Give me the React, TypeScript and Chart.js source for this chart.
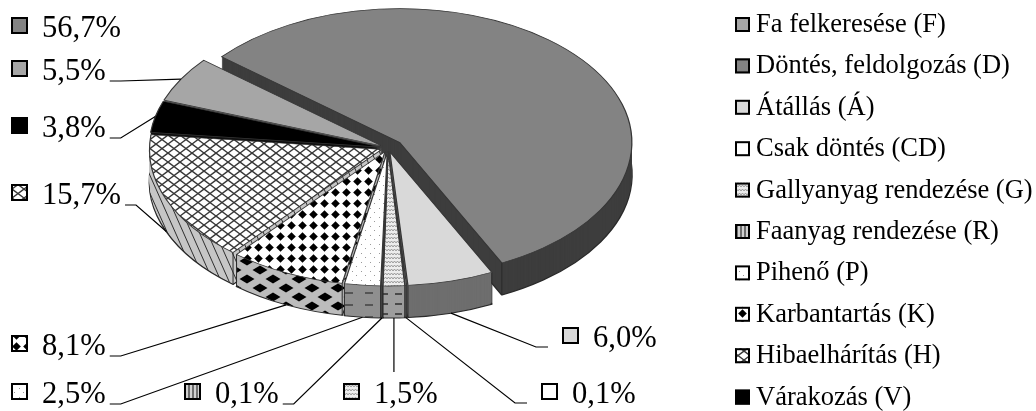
import React, { useEffect, useRef } from 'react';
import { Chart, registerables } from 'chart.js';

Chart.register(...registerables);

// ---- data ----
const categories = [
  'Fa felkeresése (F)',
  'Döntés, feldolgozás (D)',
  'Átállás (Á)',
  'Csak döntés (CD)',
  'Gallyanyag rendezése (G)',
  'Faanyag rendezése (R)',
  'Pihenő (P)',
  'Karbantartás (K)',
  'Hibaelhárítás (H)',
  'Várakozás (V)',
];
const shares = [5.5, 56.7, 6.0, 0.1, 1.5, 0.1, 2.5, 8.1, 15.7, 3.8];

// ---- layout / style ----
const ROTATION = 290;
const PIE = { cx: 388, cy: 148, rx: 232, ry: 134, depth: 32 };
const EXPLODE = [0.03, 0.065, 0.03, 0.03, 0.03, 0.03, 0.03, 0.03, 0.03, 0.03];
const LABEL_LAYOUT = [
  { x: 11, base: 80, leader: 'left' },
  { x: 11, base: 37, leader: 'none' },
  { x: 562, base: 347, leader: 'right' },
  { x: 541, base: 403, leader: 'right' },
  { x: 343, base: 403, leader: 'up' },
  { x: 184, base: 403, leader: 'left' },
  { x: 11, base: 403, leader: 'left' },
  { x: 11, base: 355, leader: 'left' },
  { x: 11, base: 204, leader: 'left' },
  { x: 11, base: 137, leader: 'left' },
];
const LEGEND = { x: 735, firstBase: 32, step: 41.4, box: 15, font: '26.5px "Liberation Serif"' };
const LABEL_FONT = '30.6px "Liberation Serif"';

function pat(w: number, h: number, fn: (g: CanvasRenderingContext2D) => void): CanvasPattern {
  const c = document.createElement('canvas');
  c.width = w;
  c.height = h;
  const g = c.getContext('2d')!;
  fn(g);
  return g.createPattern(c, 'repeat')!;
}

function periodic(w: number, h: number, g: CanvasRenderingContext2D, fn: () => void) {
  for (const dx of [-w, 0, w]) {
    for (const dy of [-h, 0, h]) {
      g.save();
      g.translate(dx, dy);
      fn();
      g.restore();
    }
  }
}

function diamond(g: CanvasRenderingContext2D, x: number, y: number, rx: number, ry: number) {
  g.beginPath();
  g.moveTo(x, y - ry);
  g.lineTo(x + rx, y);
  g.lineTo(x, y + ry);
  g.lineTo(x - rx, y);
  g.closePath();
  g.fill();
}

function buildFills() {
  const gTop = pat(6, 4, (g) => {
    g.fillStyle = '#ededed';
    g.fillRect(0, 0, 6, 4);
    g.strokeStyle = '#8a8a8a';
    g.lineWidth = 0.8;
    g.beginPath();
    g.moveTo(0, 3); g.lineTo(1.5, 1); g.lineTo(3, 3); g.lineTo(4.5, 1); g.lineTo(6, 3);
    g.stroke();
  });
  const rTop = pat(4, 2, (g) => {
    g.fillStyle = '#d0d0d0';
    g.fillRect(0, 0, 4, 2);
    g.fillStyle = '#6e6e6e';
    g.fillRect(0, 0, 2, 2);
  });
  const pTop = pat(9, 9, (g) => {
    g.fillStyle = '#ffffff';
    g.fillRect(0, 0, 9, 9);
    g.fillStyle = '#9a9a9a';
    g.fillRect(1, 1, 1, 1);
    g.fillRect(5, 5, 1, 1);
  });
  const kTop = pat(11, 11, (g) => {
    g.fillStyle = '#ffffff';
    g.fillRect(0, 0, 11, 11);
    g.fillStyle = '#000000';
    diamond(g, 5.5, 5.5, 4.3, 4.3);
  });
  const hTop = pat(12, 9, (g) => {
    g.fillStyle = '#ffffff';
    g.fillRect(0, 0, 12, 9);
    g.strokeStyle = '#383838';
    g.lineWidth = 1.4;
    periodic(12, 9, g, () => {
      g.beginPath();
      g.moveTo(0, 0); g.lineTo(12, 9);
      g.moveTo(12, 0); g.lineTo(0, 9);
      g.stroke();
    });
  });
  const gSide = pat(14, 10, (g) => {
    g.fillStyle = '#9d9d9d';
    g.fillRect(0, 0, 14, 10);
    g.fillStyle = '#4a4a4a';
    g.fillRect(3, 3, 7, 2);
  });
  const pSide = pat(20, 12, (g) => {
    g.fillStyle = '#8f8f8f';
    g.fillRect(0, 0, 20, 12);
    g.fillStyle = '#555555';
    g.fillRect(5, 4, 8, 2);
  });
  const kSide = pat(26, 18, (g) => {
    g.fillStyle = '#bcbcbc';
    g.fillRect(0, 0, 26, 18);
    g.fillStyle = '#000000';
    periodic(26, 18, g, () => {
      diamond(g, 0, 0, 7.5, 4.5);
      diamond(g, 13, 9, 7.5, 4.5);
    });
  });
  const hSide = pat(8, 18, (g) => {
    g.fillStyle = '#c6c6c6';
    g.fillRect(0, 0, 8, 18);
    g.strokeStyle = '#2e2e2e';
    g.lineWidth = 1;
    periodic(8, 18, g, () => {
      g.beginPath();
      g.moveTo(0, 0); g.lineTo(8, 18);
      g.stroke();
    });
  });
  const top = ['#a6a6a6', '#838383', '#d9d9d9', '#ffffff', gTop, rTop, pTop, kTop, hTop, '#000000'];
  const side = ['#5e5e5e', '#3d3d3d', '#6e6e6e', '#b0b0b0', gSide, '#7d7d7d', pSide, kSide, hSide, '#111111'];
  return { top, side };
}

function drawArcAt(ctx: CanvasRenderingContext2D, arc: any, i: number, depth: number, fill: any, borderColor: string, borderWidth: number) {
  const R = arc.outerRadius;
  const mid = (arc.startAngle + arc.endAngle) / 2;
  const e = EXPLODE[i] * R;
  ctx.save();
  ctx.translate(PIE.cx, PIE.cy + depth);
  ctx.scale(PIE.rx / R, PIE.ry / R);
  ctx.translate(-arc.x + Math.cos(mid) * e, -arc.y + Math.sin(mid) * e);
  if (typeof fill !== 'string' && fill && fill.setTransform) {
    fill.setTransform(ctx.getTransform().inverse());
  }
  const fake = Object.create(arc);
  fake.options = {
    ...arc.options,
    backgroundColor: fill,
    borderColor,
    borderWidth,
    offset: 0,
    spacing: 0,
    borderAlign: 'center',
    borderJoinStyle: 'round',
  };
  fake.draw(ctx);
  ctx.restore();
}

function drawPie(chart: any, fills: any) {
  const ctx: CanvasRenderingContext2D = chart.ctx;
  const arcs = chart.getDatasetMeta(0).data;
  // side walls, layer by layer
  for (let d = PIE.depth; d >= 1; d--) {
    arcs.forEach((arc: any, i: number) => {
      const bottom = d === PIE.depth;
      drawArcAt(ctx, arc, i, d, fills.side[i], '#2a2a2a', bottom ? 1.6 : 0);
    });
  }
  // vertical edges
  ctx.save();
  ctx.strokeStyle = '#2a2a2a';
  ctx.lineWidth = 1;
  arcs.forEach((arc: any, i: number) => {
    const mid = (arc.startAngle + arc.endAngle) / 2;
    [arc.startAngle, arc.endAngle].forEach((a: number) => {
      if (Math.sin(a) > 0.05) {
        const x = PIE.cx + PIE.rx * (Math.cos(a) + EXPLODE[i] * Math.cos(mid));
        const y = PIE.cy + PIE.ry * (Math.sin(a) + EXPLODE[i] * Math.sin(mid));
        ctx.beginPath();
        ctx.moveTo(x, y);
        ctx.lineTo(x, y + PIE.depth);
        ctx.stroke();
      }
    });
  });
  ctx.restore();
  // top faces
  arcs.forEach((arc: any, i: number) => {
    drawArcAt(ctx, arc, i, 0, fills.top[i], '#363636', 1.1);
  });
}

function anchorOf(arc: any, i: number) {
  const mid = (arc.startAngle + arc.endAngle) / 2;
  const f = 1 + EXPLODE[i];
  const x = PIE.cx + PIE.rx * f * Math.cos(mid);
  let y = PIE.cy + PIE.ry * f * Math.sin(mid);
  if (Math.sin(mid) > 0) y += PIE.depth;
  return { x, y };
}

function fillBox(ctx: CanvasRenderingContext2D, fill: any, x: number, y: number, s: number) {
  if (typeof fill !== 'string' && fill && fill.setTransform) {
    fill.setTransform(new DOMMatrix());
  }
  ctx.fillStyle = fill;
  ctx.fillRect(x, y, s, s);
  ctx.strokeStyle = '#000';
  ctx.lineWidth = 2;
  ctx.strokeRect(x + 1, y + 1, s - 2, s - 2);
}

function drawLabels(chart: any, fills: any) {
  const ctx: CanvasRenderingContext2D = chart.ctx;
  const arcs = chart.getDatasetMeta(0).data;
  ctx.save();
  ctx.textBaseline = 'alphabetic';
  ctx.textAlign = 'left';
  // percentage labels
  arcs.forEach((arc: any, i: number) => {
    const L = LABEL_LAYOUT[i];
    const text = shares[i].toFixed(1).replace('.', ',') + '%';
    fillBox(ctx, fills.top[i], L.x, L.base - 20, 17);
    ctx.font = LABEL_FONT;
    ctx.fillStyle = '#000';
    const tx = L.x + 31;
    ctx.fillText(text, tx, L.base);
    const w = ctx.measureText(text).width;
    const a = anchorOf(arc, i);
    ctx.strokeStyle = '#000';
    ctx.lineWidth = 1.2;
    ctx.beginPath();
    if (L.leader === 'left') {
      ctx.moveTo(tx + w + 4, L.base + 1);
      ctx.lineTo(tx + w + 15, L.base + 1);
      ctx.lineTo(a.x, a.y);
    } else if (L.leader === 'right') {
      ctx.moveTo(L.x - 14, L.base);
      ctx.lineTo(L.x - 26, L.base);
      ctx.lineTo(a.x, a.y);
    } else if (L.leader === 'up') {
      ctx.moveTo(a.x, L.base - 31);
      ctx.lineTo(a.x, a.y);
    }
    ctx.stroke();
  });
  // legend
  ctx.font = LEGEND.font;
  categories.forEach((name, i) => {
    const base = LEGEND.firstBase + i * LEGEND.step;
    fillBox(ctx, fills.top[i], LEGEND.x, base - LEGEND.box, LEGEND.box);
    ctx.fillStyle = '#000';
    ctx.fillText(name, LEGEND.x + 21, base);
  });
  ctx.restore();
}

export default function App() {
  const ref = useRef<HTMLCanvasElement>(null);
  useEffect(() => {
    const canvas = ref.current!;
    const fills = buildFills();
    const plugin = {
      id: 'pie3d',
      beforeDatasetsDraw(chart: any) {
        drawPie(chart, fills);
        return false;
      },
      afterDraw(chart: any) {
        drawLabels(chart, fills);
      },
    };
    const chart = new Chart(canvas, {
      type: 'pie',
      data: {
        labels: categories,
        datasets: [{ data: shares, backgroundColor: fills.top as any, borderWidth: 0 }],
      },
      options: {
        animation: false,
        responsive: false,
        rotation: ROTATION,
        events: [],
        plugins: { legend: { display: false }, tooltip: { enabled: false } },
      },
      plugins: [plugin as any],
    });
    return () => chart.destroy();
  }, []);
  return (
    <div style={{ position: 'fixed', left: 0, top: 0, width: 1036, height: 411, background: '#fff' }}>
      <canvas ref={ref} width={1036} height={411} style={{ display: 'block' }} />
    </div>
  );
}
